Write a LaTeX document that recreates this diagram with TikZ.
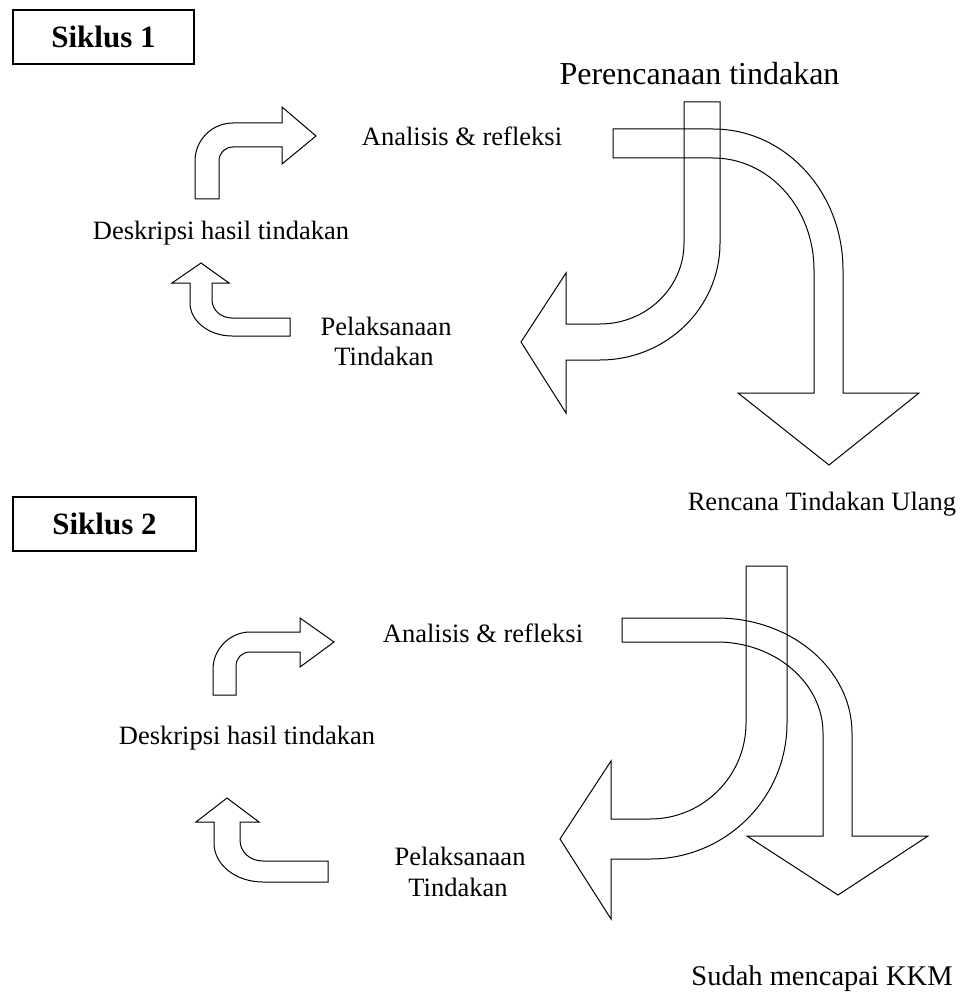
\documentclass[tikz,border=0pt]{standalone}
\usepackage{fontspec}
\setmainfont{Liberation Serif}
\usetikzlibrary{positioning}

\begin{document}
\begin{tikzpicture}[x=1pt, y=-1pt,
    blockarrow/.style = {draw, line width=1pt, line join=miter},
    steplabel/.style  = {font=\fontsize{26.5}{30}\selectfont, inner sep=0pt, anchor=base},
    cyclebox/.style   = {draw, line width=1.6pt, minimum height=54pt, inner sep=0pt,
                         font=\bfseries\fontsize{31}{36}\selectfont}]
  \useasboundingbox (0,0) rectangle (962,1000);

  % Siklus 1
  \node[cyclebox, minimum width=181pt] (sik1) at (103.5,37) {Siklus 1};
  \node[steplabel, font=\fontsize{32}{36}\selectfont] (plan1) at (699.5,85) {Perencanaan tindakan};
  \node[steplabel] (anal1) at (462,146) {Analisis \& refleksi};
  \node[steplabel] (desk1) at (221,240) {Deskripsi hasil tindakan};
  \node[steplabel] (pel1)  at (386,335) {Pelaksanaan};
  \node[steplabel] (tin1)  at (384,365) {Tindakan};
  \node[steplabel] (ulang) at (822,510) {Rencana Tindakan Ulang};

  % small arrows of cycle 1
  \draw[blockarrow] (195,199) -- (195,161) .. controls (195,140) and (212,123) .. (233,123)
    -- (282,123) -- (282,107) -- (316,136) -- (282,164) -- (282,147) -- (233,147)
    .. controls (225,147) and (219,153) .. (219,161) -- (219,199) -- cycle;
  \draw[blockarrow] (201,263) -- (229,283) -- (212,283) -- (212,300)
    .. controls (212,310) and (221,318) .. (232,318) -- (290,318) -- (290,336) -- (232,336)
    .. controls (209,336) and (190,321) .. (190,303) -- (190,283) -- (172,283) -- cycle;

  % big arrows of cycle 1
  \draw[blockarrow] (684,102) -- (720,102) -- (720,243)
    .. controls (720,308) and (666,360) .. (600,360) -- (566,360) -- (566,413)
    -- (521,342) -- (566,273) -- (566,324) -- (600,324)
    .. controls (646,324) and (684,288) .. (684,243) -- cycle;
  \draw[blockarrow] (613,129) -- (713,129) .. controls (785,129) and (843,192) .. (843,270)
    -- (843,393) -- (919,393) -- (829,465) -- (738,393) -- (814,393) -- (814,270)
    .. controls (814,208) and (769,158) .. (713,158) -- (613,158) -- cycle;

  % Siklus 2
  \node[cyclebox, minimum width=183pt] (sik2) at (104.5,524) {Siklus 2};
  \node[steplabel] (anal2) at (483,642) {Analisis \& refleksi};
  \node[steplabel] (desk2) at (247,744) {Deskripsi hasil tindakan};
  \node[steplabel] (pel2)  at (460,865) {Pelaksanaan};
  \node[steplabel] (tin2)  at (458,896) {Tindakan};
  \node[steplabel, font=\fontsize{28.5}{32}\selectfont] (kkm) at (822,985) {Sudah mencapai KKM};

  % small arrows of cycle 2
  \draw[blockarrow] (213,695) -- (213,669) .. controls (213,649) and (230,632) .. (250,632)
    -- (300,632) -- (300,618) -- (334,642) -- (300,667) -- (300,652) -- (250,652)
    .. controls (242,652) and (236,658) .. (236,666) -- (236,695) -- cycle;
  \draw[blockarrow] (227,798) -- (259,822) -- (240,822) -- (240,840)
    .. controls (240,852) and (250,861) .. (263,861) -- (328,861) -- (328,882) -- (263,882)
    .. controls (236,882) and (214,865) .. (214,843) -- (214,822) -- (196,822) -- cycle;

  % big arrows of cycle 2
  \draw[blockarrow] (746,566) -- (787,566) -- (787,723)
    .. controls (787,798) and (726,859) .. (650,859) -- (611,859) -- (611,919)
    -- (560,839) -- (611,761) -- (611,819) -- (650,819)
    .. controls (703,819) and (746,776) .. (746,723) -- cycle;
  \draw[blockarrow] (622,618) -- (717,618) .. controls (792,618) and (852,670) .. (852,733)
    -- (852,836) -- (928,836) -- (838,895) -- (747,836) -- (823,836) -- (823,733)
    .. controls (823,683) and (775,642) .. (717,642) -- (622,642) -- cycle;
\end{tikzpicture}
\end{document}
